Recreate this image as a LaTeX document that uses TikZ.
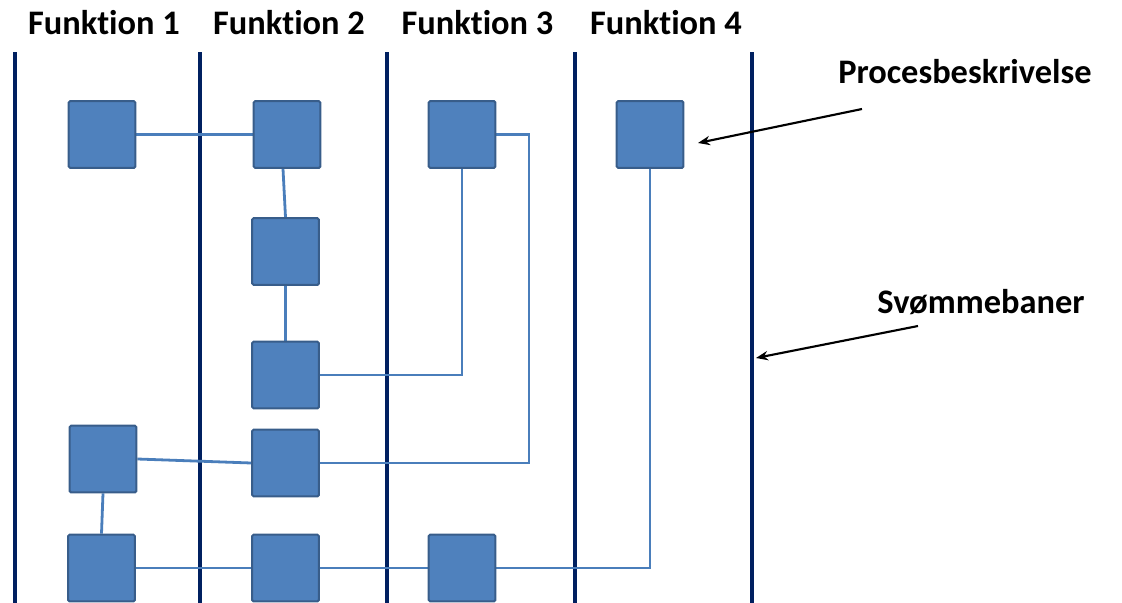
\documentclass[tikz,border=0pt]{standalone}
\usepackage{fontspec}
\setmainfont{Carlito}[Ligatures={NoCommon,NoRare,NoContextual}]
\usetikzlibrary{arrows.meta,calc}
\definecolor{boxfill}{HTML}{4F81BD}
\definecolor{boxline}{HTML}{385D8A}
\definecolor{conn}{HTML}{4A7EBB}
\definecolor{lane}{HTML}{002060}
\pgfdeclarelayer{bg}
\pgfsetlayers{bg,main}
\tikzset{
  proc/.style={draw=boxline, fill=boxfill, line width=1.5pt, minimum size=50pt, inner sep=0pt, rounded corners=1pt},
  lanecol/.style={draw=lane, line width=3pt},
  link/.style={draw=conn, line width=2.1pt},
  pointer/.style={draw=black, line width=1.6pt, -{Stealth[length=9pt,width=7pt]}},
  lbl/.style={font=\fontsize{25.8}{30}\selectfont\bfseries, anchor=base, inner sep=0pt}
}
\begin{document}
\begin{tikzpicture}[x=0.75pt,y=-0.75pt]
\useasboundingbox (0,0) rectangle (1122,603);
% headers
\node[lbl] (h1) at (104,35) {Funktion 1};
\node[lbl] (h2) at (289,35) {Funktion 2};
\node[lbl] (h3) at (477.5,35) {Funktion 3};
\node[lbl] (h4) at (666,35) {Funktion 4};
\node[lbl] (t1) at (965,83) {Procesbeskrivelse};
\node[lbl] (t2) at (981,313) {Svømmebaner};
% lanes
\begin{pgfonlayer}{bg}
\coordinate (l1a) at (15,52);  \coordinate (l1b) at (15,606);
\coordinate (l2a) at (200,52); \coordinate (l2b) at (200,606);
\coordinate (l3a) at (386.5,52); \coordinate (l3b) at (386.5,606);
\coordinate (l4a) at (575,52); \coordinate (l4b) at (575,606);
\coordinate (l5a) at (752,52); \coordinate (l5b) at (752,606);
\draw[lanecol] (l1a) -- (l1b);
\draw[lanecol] (l2a) -- (l2b);
\draw[lanecol] (l3a) -- (l3b);
\draw[lanecol] (l4a) -- (l4b);
\draw[lanecol] (l5a) -- (l5b);
\end{pgfonlayer}
% boxes
\node[proc] (A) at (102,134.5) {};
\node[proc] (B) at (287,134.5) {};
\node[proc] (C) at (462,134.5) {};
\node[proc] (D) at (650,134.5) {};
\node[proc] (E) at (285.5,251.5) {};
\node[proc] (F) at (285.5,375) {};
\node[proc] (G) at (103,459) {};
\node[proc] (H) at (285.5,463) {};
\node[proc] (I) at (101.5,568) {};
\node[proc] (J) at (285.5,568) {};
\node[proc] (K) at (462,568) {};
% connectors
\begin{pgfonlayer}{bg}
\coordinate (cr) at (529,300);
\draw[link] (A.east) -- (B.west);
\draw[link] ($(B.south)+(-4,0)$) -- (E.north);
\draw[link] (E.south) -- (F.north);
\draw[link] (F.east) -| (C.south);
\draw[link] (C.east) -| (cr) |- (H.east);
\draw[link] (G.east) -- (H.west);
\draw[link] (G.south) -- (I.north);
\draw[link] (I.east) -- (J.west);
\draw[link] (J.east) -- (K.west);
\draw[link] (K.east) -| (D.south);
\end{pgfonlayer}
% pointers
\coordinate (p1) at (862,109);
\coordinate (p2) at (698,143);
\coordinate (s1) at (918,326);
\coordinate (s2) at (756,358);
\draw[pointer] (p1) -- (p2);
\draw[pointer] (s1) -- (s2);
\end{tikzpicture}
\end{document}
